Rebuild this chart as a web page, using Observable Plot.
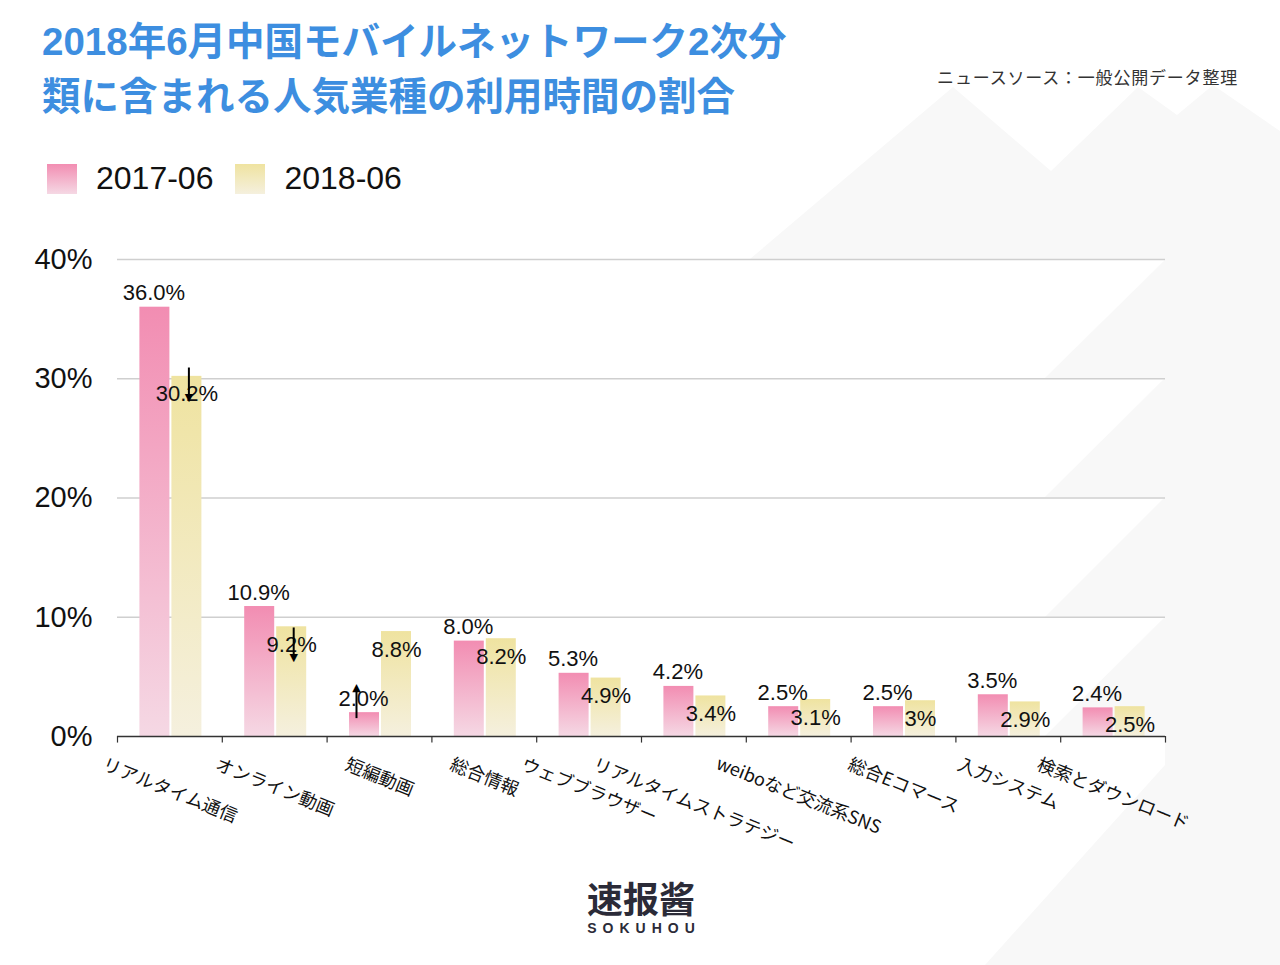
<!DOCTYPE html>
<html>
<head>
<meta charset="utf-8">
<script src="https://cdn.jsdelivr.net/npm/d3@7"></script>
<script src="https://cdn.jsdelivr.net/npm/@observablehq/plot@0.6"></script>
<style>
  html, body { margin: 0; padding: 0; background: #fff; }
  body { width: 1280px; height: 965px; position: relative; overflow: hidden;
         font-family: "Liberation Sans", "Noto Sans CJK JP", sans-serif; }
  #bg { position: absolute; left: 0; top: 0; z-index: 0; }
  #title { position: absolute; left: 42px; top: 14px; font-size: 38.5px; line-height: 55px;
           font-weight: bold; color: #3d8ee0; z-index: 2; white-space: nowrap; }
  #source { position: absolute; right: 42px; top: 64px; font-size: 17px; color: #333; letter-spacing: 0.8px;
            font-family: "Noto Sans CJK JP", sans-serif; z-index: 2; }
  #legend { position: absolute; left: 47px; top: 160px; display: flex; align-items: center; z-index: 2; }
  .item { display: flex; align-items: center; margin-right: 22px; }
  .sw { width: 30px; height: 30px; margin-right: 19px; }
  .lab { font-size: 32px; color: #111; }
  #chart { position: absolute; left: 0; top: 220px; z-index: 1; }
  #logo { position: absolute; left: 0; width: 1282px; top: 874px; text-align: center; z-index: 2; color: #2b2b38; }
  #logo .cn { font-family: "Noto Sans CJK SC", sans-serif; font-weight: bold; font-size: 36px; line-height: 46px; }
  #logo .en { font-family: "Liberation Sans", sans-serif; font-weight: bold; font-size: 14px; letter-spacing: 6px; line-height: 16px; padding-left: 6px; }
</style>
</head>
<body>
<svg id="bg" width="1280" height="965">
  <g fill="#f8f8f8">
    <polygon points="750,259 953,87 1051,171 1138,87 1177,115 1213,85 1280,131 1280,965 985,965 1165,765 1165,259"/>
    <polygon points="1165,260 1165,378 1045,378"/>
    <polygon points="1165,378 1165,497 1045,497"/>
    <polygon points="1165,497 1165,617 1045,617"/>
    <polygon points="1165,617 1165,736 1045,736"/>
  </g>
</svg>
<div id="title">2018年6月中国モバイルネットワーク2次分<br>類に含まれる人気業種の利用時間の割合</div>
<div id="source">ニュースソース：一般公開データ整理</div>
<div id="legend"></div>
<div id="chart"></div>
<div id="logo"><div class="cn">速报酱</div><div class="en">SOKUHOU</div></div>
<script>
// ---- data ----
const categories = ["リアルタイム通信","オンライン動画","短編動画","総合情報","ウェブブラウザー","リアルタイムストラテジー","weiboなど交流系SNS","総合Eコマース","入力システム","検索とダウンロード"];
const seriesNames = ["2017-06","2018-06"];
const values2017 = [36.0, 10.9, 2.0, 8.0, 5.3, 4.2, 2.5, 2.5, 3.5, 2.4];
const values2018 = [30.2, 9.2, 8.8, 8.2, 4.9, 3.4, 3.1, 3.0, 2.9, 2.5];
const labels2017 = ["36.0%","10.9%","2.0%","8.0%","5.3%","4.2%","2.5%","2.5%","3.5%","2.4%"];
const labels2018 = ["30.2%","9.2%","8.8%","8.2%","4.9%","3.4%","3.1%","3%","2.9%","2.5%"];
const yTicks = [0, 10, 20, 30, 40];
// change arrows (category index, series, from value, to value)
const arrowCats = [0, 1, 2];
const arrowSeries = ["2018-06", "2018-06", "2017-06"];
const arrowFrom = [30.9, 9.1, 1.5];
const arrowTo = [28.4, 6.6, 4.1];

// ---- build tables ----
const d2017 = categories.map((c, i) => ({cat: c, v: values2017[i], label: labels2017[i]}));
const d2018 = categories.map((c, i) => ({cat: c, v: values2018[i], label: labels2018[i]}));
const arrows = arrowCats.map((ci, i) => ({cat: categories[ci], s: arrowSeries[i], y1: arrowFrom[i], y2: arrowTo[i]}));

const W = 1280, H = 650, mL = 117, mR = 115, mT = 39, mB = 134;
const step = (W - mL - mR) / categories.length;
const pinkDx = -15, yellowDx = 17;

const fontFam = '"Liberation Sans", "Noto Sans CJK JP", sans-serif';
const xFont = 18, rot = 22;
const rad = rot * Math.PI / 180;
function textWidth(s) {
  let w = 0;
  for (const ch of s) w += ch.charCodeAt(0) < 128 ? 0.56 : 1;
  return w * xFont;
}

const xLabelMarks = categories.map(c => {
  const w = textWidth(c);
  const dy = 19 + (w * Math.sin(rad) + xFont * Math.cos(rad)) / 2;
  return Plot.text([c], {x: d => d, text: d => d, frameAnchor: "bottom", rotate: rot,
    textAnchor: "middle", lineAnchor: "middle", dy, fontSize: xFont, fill: "#111",
    fontFamily: '"Noto Sans CJK JP", sans-serif'});
});

const arrowMarks = seriesNames.flatMap(s => {
  const data = arrows.filter(a => a.s === s);
  const dx = s === "2017-06" ? -8 + pinkDx : yellowDx + 2;
  return [
    Plot.ruleX(data, {x: "cat", y1: "y1", y2: "y2", dx, stroke: "#000", strokeWidth: 2}),
    Plot.text(data, {x: "cat", y: "y2", dx, text: d => d.y2 < d.y1 ? "▼" : "▲",
      lineAnchor: "middle", dy: 0, fontSize: 11, fill: "#000", fontFamily: "DejaVu Sans"})
  ];
});

const chart = Plot.plot({
  width: W, height: H,
  marginLeft: mL, marginRight: mR, marginTop: mT, marginBottom: mB,
  style: {background: "transparent", fontFamily: fontFam, fontSize: "29px", color: "#111", overflow: "visible"},
  x: {type: "band", domain: categories, padding: 0, round: false, axis: null},
  y: {domain: [0, 40], ticks: yTicks, tickFormat: d => d + "%", tickSize: 0, tickPadding: 25, label: null},
  marks: [
    Plot.ruleY(yTicks.filter(t => t > 0), {stroke: "#cfcfcf", strokeWidth: 1.5}),
    Plot.barY(d2017, {x: "cat", y: "v", fill: "url(#gradPink)", insetLeft: step / 2 - 30, insetRight: step / 2}),
    Plot.barY(d2018, {x: "cat", y: "v", fill: "url(#gradYellow)", insetLeft: step / 2 + 2, insetRight: step / 2 - 32}),
    Plot.ruleY([0], {stroke: "#333", strokeWidth: 1.5}),
    Plot.ruleX(categories, {x: d => d, dx: -step / 2, y1: 0, y2: -0.55, stroke: "#333", strokeWidth: 1.2}),
    Plot.ruleX(categories.slice(-1), {x: d => d, dx: step / 2, y1: 0, y2: -0.55, stroke: "#333", strokeWidth: 1.2}),
    Plot.text(d2017, {x: "cat", y: "v", text: "label", dx: pinkDx - 1, dy: -14, fontSize: 22, fill: "#111"}),
    Plot.text(d2018, {x: "cat", y: "v", text: "label", dx: yellowDx, dy: 18, fontSize: 22, fill: "#111"}),
    ...arrowMarks,
    ...xLabelMarks
  ]
});

// gradients
const NS = "http://www.w3.org/2000/svg";
const defs = document.createElementNS(NS, "defs");
function grad(id, top, bottom) {
  const g = document.createElementNS(NS, "linearGradient");
  g.setAttribute("id", id); g.setAttribute("x1", "0"); g.setAttribute("y1", "0");
  g.setAttribute("x2", "0"); g.setAttribute("y2", "1");
  [[0, top], [1, bottom]].forEach(([o, c]) => {
    const s = document.createElementNS(NS, "stop");
    s.setAttribute("offset", o); s.setAttribute("stop-color", c);
    g.appendChild(s);
  });
  defs.appendChild(g);
}
grad("gradPink", "#f28db2", "#f5d8e4");
grad("gradYellow", "#efe3a0", "#f5f0de");
chart.insertBefore(defs, chart.firstChild);
document.getElementById("chart").appendChild(chart);

// legend
const legendColors = {"2017-06": "linear-gradient(#f28db2, #f5d8e4)", "2018-06": "linear-gradient(#efe3a0, #f5f0de)"};
const legend = document.getElementById("legend");
seriesNames.forEach(s => {
  const item = document.createElement("div"); item.className = "item";
  const sw = document.createElement("div"); sw.className = "sw"; sw.style.background = legendColors[s];
  const lab = document.createElement("div"); lab.className = "lab"; lab.textContent = s;
  item.appendChild(sw); item.appendChild(lab); legend.appendChild(item);
});
</script>
</body>
</html>
